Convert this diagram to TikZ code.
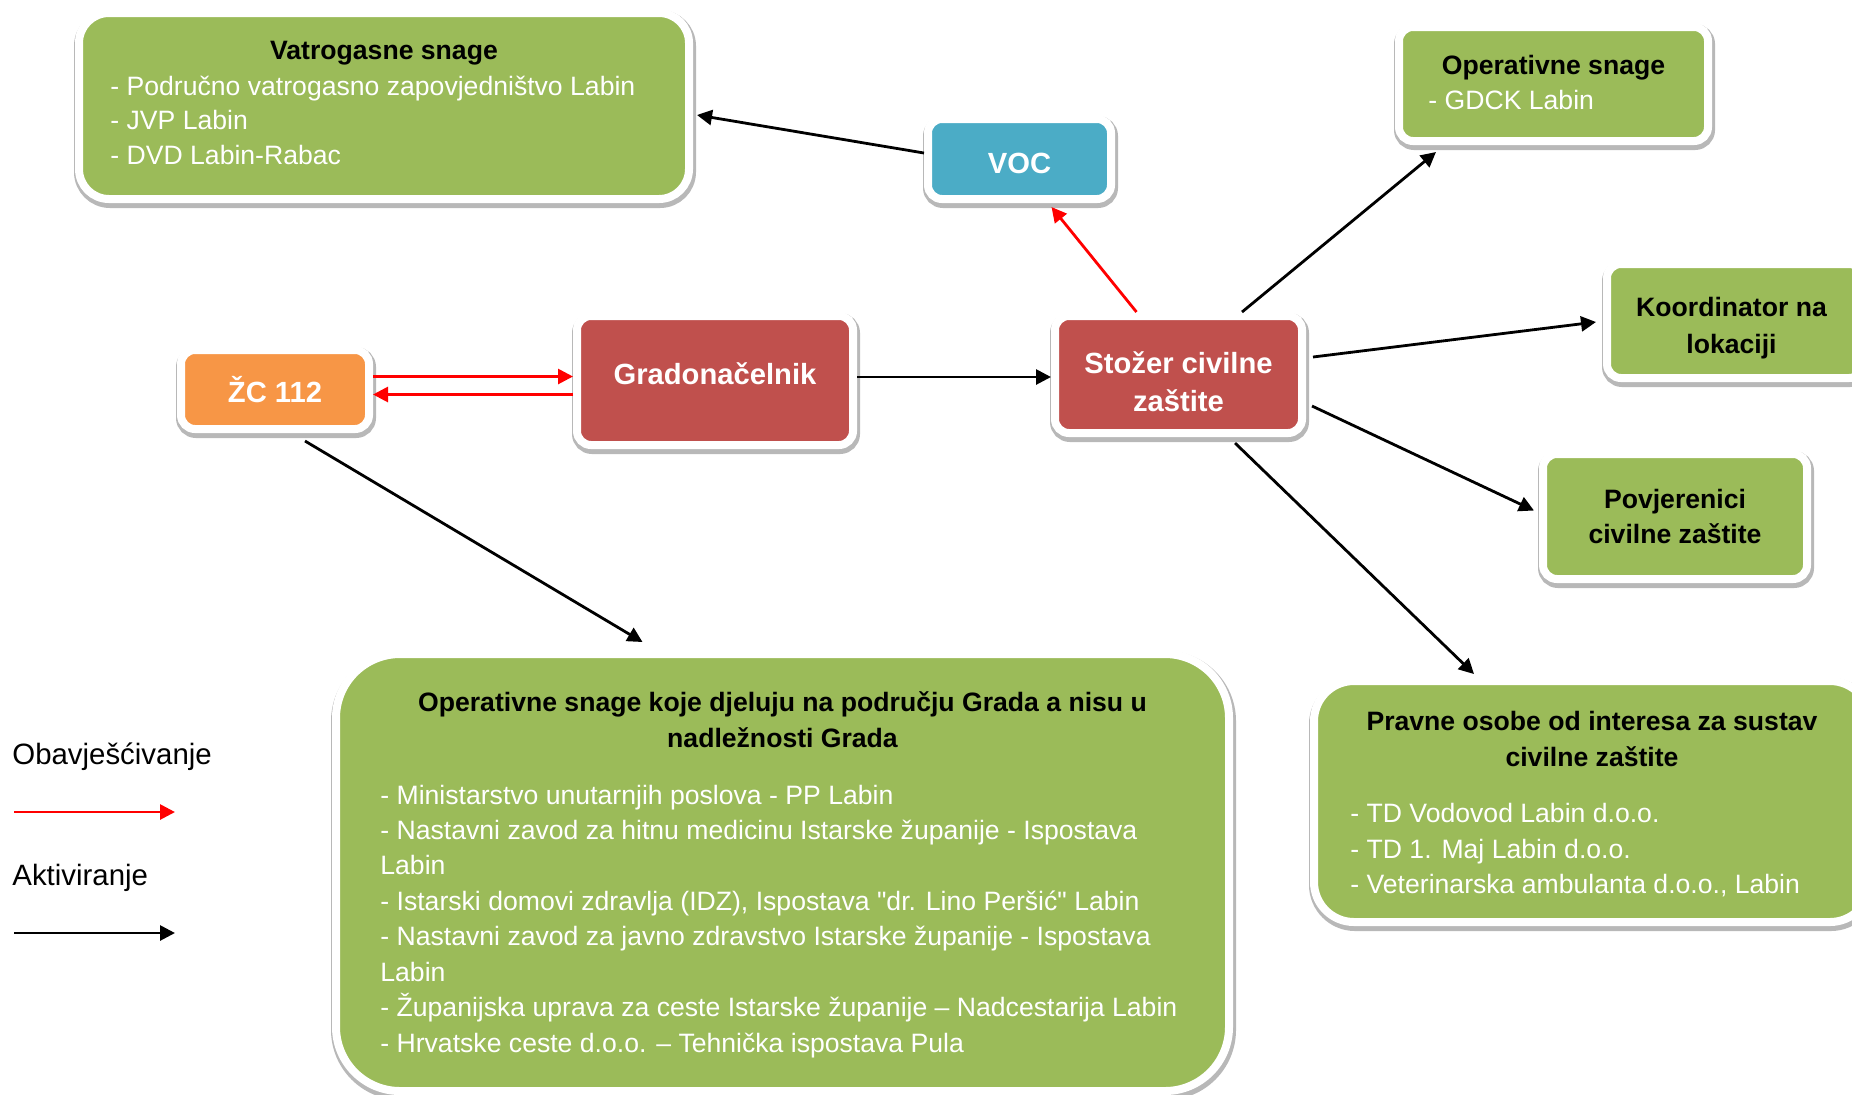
\documentclass[tikz,border=0pt]{standalone}
\usepackage{fontspec}
\setmainfont{Liberation Sans}
\usetikzlibrary{arrows.meta,shadows}
\definecolor{boxgreen}{HTML}{9BBB59}
\definecolor{boxred}{HTML}{C0504D}
\definecolor{boxblue}{HTML}{4BACC6}
\definecolor{boxorange}{HTML}{F79646}
\newcommand{\plainsz}{\fontsize{13.3pt}{17.7pt}\selectfont}
\newcommand{\koordsz}{\fontsize{13.3pt}{18.3pt}\selectfont}
\newcommand{\headsz}{\fontsize{14.6pt}{18.9pt}\selectfont}
\newcommand{\legsz}{\fontsize{14.7pt}{17pt}\selectfont}
\tikzset{
  box/.style={draw=white, line width=4pt, rounded corners=7pt, inner sep=0pt, align=center,
    drop shadow={shadow xshift=0.5pt, shadow yshift=-1.5pt, draw=black, line width=6pt, opacity=0.28}},
  greenbox/.style={box, fill=boxgreen},
  redbox/.style={box, fill=boxred, text=white},
  bluebox/.style={box, fill=boxblue, text=white},
  orangebox/.style={box, fill=boxorange, text=white},
  head/.style={anchor=base, inner sep=0pt},
  item/.style={anchor=base west, inner sep=0pt, text=white},
  act/.style={line width=1.4pt, -{Triangle[length=7.5pt,width=7.5pt]}},
  notif/.style={act, red}
}
\begin{document}
\begin{tikzpicture}[x=0.5pt,y=-0.5pt]
\path [use as bounding box, fill=white] (0,0) rectangle (1852,1094);
% boxes
\node [greenbox, rounded corners=15pt, minimum width=305pt, minimum height=93pt] (vat) at (384,106) {};
\node [bluebox, minimum width=91.5pt, minimum height=40pt, text height=15pt, font=\headsz\bfseries] (voc) at (1019.5,159) {VOC};
\node [greenbox, minimum width=154.5pt, minimum height=57pt] (ops) at (1553.5,84) {};
\node [greenbox, minimum width=128pt, minimum height=57pt] (koord) at (1735,321) {};
\node [greenbox, minimum width=132pt, minimum height=62.5pt, font=\plainsz\bfseries] (pov) at (1675,516.5) {Povjerenici\\civilne zaštite};
\node [greenbox, rounded corners=20pt, minimum width=278pt, minimum height=120.5pt] (prav) at (1592,801.5) {};
\node [orangebox, minimum width=94pt, minimum height=39.5pt, font=\headsz\bfseries] (zc) at (275,389.5) {ŽC 112};
\node [redbox, minimum width=138pt, minimum height=64.5pt, text depth=7pt, font=\headsz\bfseries] (grad) at (715,380.5) {Gradonačelnik};
\node [redbox, minimum width=123.5pt, minimum height=58.5pt] (stozer) at (1178.5,374.5) {};
\node [greenbox, rounded corners=32pt, minimum width=446.5pt, minimum height=218.5pt] (big) at (782.5,872.5) {};
% texts
\node [align=center, text=white, font=\headsz\bfseries] (stozerT) at (1178.5,381.5) {Stožer civilne\\zaštite};
\node [align=center, font=\koordsz\bfseries] (koordT) at (1731.5,328) {Koordinator na\\lokaciji};
\node [head, font=\plainsz\bfseries] (vatT) at (384,59) {Vatrogasne snage};
\node [item, font=\plainsz] (vat1) at (110,95) {- Područno vatrogasno zapovjedništvo Labin};
\node [item, font=\plainsz] (vat2) at (110,129) {- JVP Labin};
\node [item, font=\plainsz] (vat3) at (110,164) {- DVD Labin-Rabac};
\node [head, font=\plainsz\bfseries] (opsT) at (1553.5,74) {Operativne snage};
\node [item, font=\plainsz] (ops1) at (1428,109) {- GDCK Labin};
\node [head, font=\plainsz\bfseries] (pravT1) at (1592,730) {Pravne osobe od interesa za sustav};
\node [head, font=\plainsz\bfseries] (pravT2) at (1592,766) {civilne zaštite};
\node [item, font=\plainsz] (prav1) at (1350,822) {- TD Vodovod Labin d.o.o.};
\node [item, font=\plainsz] (prav2) at (1350,858) {- TD 1. Maj Labin d.o.o.};
\node [item, font=\plainsz] (prav3) at (1350,893) {- Veterinarska ambulanta d.o.o., Labin};
\node [head, font=\plainsz\bfseries] (bigT1) at (782.5,711.5) {Operativne snage koje djeluju na području Grada a nisu u};
\node [head, font=\plainsz\bfseries] (bigT2) at (782.5,747) {nadležnosti Grada};
\node [item, font=\plainsz] (big1) at (380,804) {- Ministarstvo unutarnjih poslova - PP Labin};
\node [item, font=\plainsz] (big2) at (380,839) {- Nastavni zavod za hitnu medicinu Istarske županije - Ispostava};
\node [item, font=\plainsz] (big3) at (380,874) {Labin};
\node [item, font=\plainsz] (big4) at (380,910) {- Istarski domovi zdravlja (IDZ), Ispostava \textquotedbl dr. Lino Peršić\textquotedbl{} Labin};
\node [item, font=\plainsz] (big5) at (380,945) {- Nastavni zavod za javno zdravstvo Istarske županije - Ispostava};
\node [item, font=\plainsz] (big6) at (380,981) {Labin};
\node [item, font=\plainsz] (big7) at (380,1016) {- Županijska uprava za ceste Istarske županije – Nadcestarija Labin};
\node [item, font=\plainsz] (big8) at (380,1052) {- Hrvatske ceste d.o.o. – Tehnička ispostava Pula};
% connectors
\draw [notif] ([xshift=-21pt]stozer.north) -- ([xshift=16pt,yshift=-2pt]voc.south);
\draw [act] ([yshift=3pt]voc.west) -- ([xshift=2pt,yshift=-4.5pt]vat.east);
\draw [notif] ([yshift=6.5pt]zc.east) -- ([yshift=2pt]grad.west);
\draw [notif] ([yshift=-7pt]grad.west) -- ([yshift=-2.5pt]zc.east);
\draw [act] ([yshift=1.75pt]grad.east) -- ([yshift=-1.25pt]stozer.west);
\draw [act] ([xshift=31.75pt]stozer.north) -- ([xshift=-58.75pt,yshift=-3.5pt]ops.south);
\draw [act] ([xshift=3.5pt,yshift=8.75pt]stozer.east) -- ([xshift=-3.5pt,yshift=-0.5pt]koord.west);
\draw [act] ([xshift=3pt,yshift=-15.75pt]stozer.east) -- ([xshift=-2.5pt,yshift=3pt]pov.west);
\draw [act] ([xshift=28.25pt,yshift=-3pt]stozer.south) -- ([xshift=-59pt,yshift=1.5pt]prav.north);
\draw [act] ([xshift=15pt,yshift=-4pt]zc.south) -- ([xshift=-70pt,yshift=4pt]big.north);
% legend
\node [anchor=base west, inner sep=0pt, font=\legsz] (obav) at (12,764) {Obavješćivanje};
\coordinate (notifA) at (14,812);
\coordinate (notifB) at (175,812);
\draw [notif] (notifA) -- (notifB);
\node [anchor=base west, inner sep=0pt, font=\legsz] (aktiv) at (12,885) {Aktiviranje};
\coordinate (actA) at (14,933);
\coordinate (actB) at (175,933);
\draw [act] (actA) -- (actB);
\end{tikzpicture}
\end{document}
